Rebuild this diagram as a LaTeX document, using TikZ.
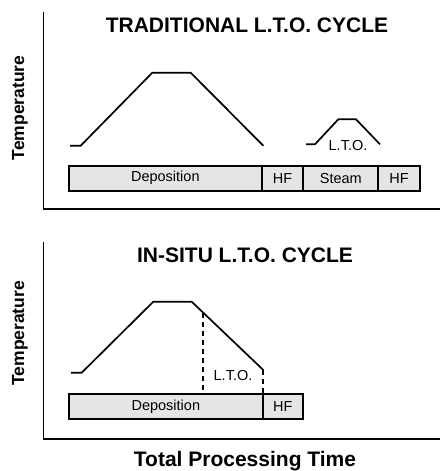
\documentclass[tikz,border=0pt]{standalone}
\usepackage{fontspec}
\setmainfont{Liberation Sans}
\usetikzlibrary{positioning, calc}

\begin{document}
\begin{tikzpicture}[
    x=1pt, y=1pt,
    every node/.style={font=\fontsize{14.5}{17}\selectfont},
    stage/.style={rectangle, draw, line width=1.7pt, fill=black!10, minimum height=25pt, inner sep=0pt, outer sep=0pt},
    curve/.style={line width=1.7pt, line join=miter},
    axis/.style={line width=1.7pt},
    guide/.style={line width=1.7pt, dash pattern=on 5pt off 4pt},
    title/.style={font=\fontsize{21}{24}\selectfont\bfseries},
    axislabel/.style={font=\fontsize{17.5}{21}\selectfont\bfseries}
]
\useasboundingbox (0,0) rectangle (442,-471);

% ============ TOP PANEL: Traditional cycle ============
\coordinate (top) at (43.5,-12);
\coordinate (origin1) at (43.5,-209);
\coordinate (end1) at (440,-209);
\draw[axis] (top) -- (origin1) -- (end1);

\node[title] (title1) at (247,-25) {TRADITIONAL L.T.O. CYCLE};
\node[axislabel, rotate=90] (temp1) at (20,-108) {Temperature};

% deposition temperature profile
\coordinate (d0) at (70,-145.7);
\coordinate (d1) at (80.7,-145.7);
\coordinate (d2) at (152.3,-72.7);
\coordinate (d3) at (190.7,-72.7);
\coordinate (d4) at (263.3,-145.7);
\draw[curve] (d0) -- (d1) -- (d2) -- (d3) -- (d4);

% separate L.T.O. step
\coordinate (l0) at (306,-144.3);
\coordinate (l1) at (315,-144.3);
\coordinate (l2) at (338.3,-119.3);
\coordinate (l3) at (356,-119.3);
\coordinate (l4) at (380,-144.3);
\draw[curve] (l0) -- (l1) -- (l2) -- (l3) -- (l4);
\node (lto1) at (348,-146) {L.T.O.};

% process steps
\node[stage, minimum width=192.7pt, anchor=west] (dep1) at (69,-178.2) {Deposition};
\node[stage, minimum width=41.6pt, right=0pt of dep1] (hf1) {HF};
\node[stage, minimum width=75pt, right=0pt of hf1] (steam) {Steam};
\node[stage, minimum width=41.7pt, right=0pt of steam] (hf2) {HF};

% ============ BOTTOM PANEL: In-situ cycle ============
\coordinate (top2) at (43.5,-241.7);
\coordinate (origin2) at (43.5,-439.3);
\coordinate (end2) at (440,-439.3);
\draw[axis] (top2) -- (origin2) -- (end2);

\node[title] (title2) at (245,-255) {IN-SITU L.T.O. CYCLE};
\node[axislabel, rotate=90] (temp2) at (20,-333.3) {Temperature};

\coordinate (e0) at (71,-372.7);
\coordinate (e1) at (81.7,-372.7);
\coordinate (e2) at (153.3,-301.7);
\coordinate (e3) at (191.7,-301.7);
\coordinate (e4) at (263.3,-370);
\draw[curve] (e0) -- (e1) -- (e2) -- (e3) -- (e4);

\node[stage, minimum width=193.7pt, anchor=west] (dep2) at (69,-406.8) {Deposition};
\node[stage, minimum width=40pt, right=0pt of dep2] (hf3) {HF};

% L.T.O. during ramp down
\coordinate (split) at ($(e3)!0.162!(e4)$);
\draw[guide] (split) -- (split |- dep2.north);
\draw[guide] (e4) -- (e4 |- dep2.north);
\node (lto2) at (233,-376) {L.T.O.};

\node[title, anchor=base] (xlabel) at (245,-466) {Total Processing Time};

\end{tikzpicture}
\end{document}
